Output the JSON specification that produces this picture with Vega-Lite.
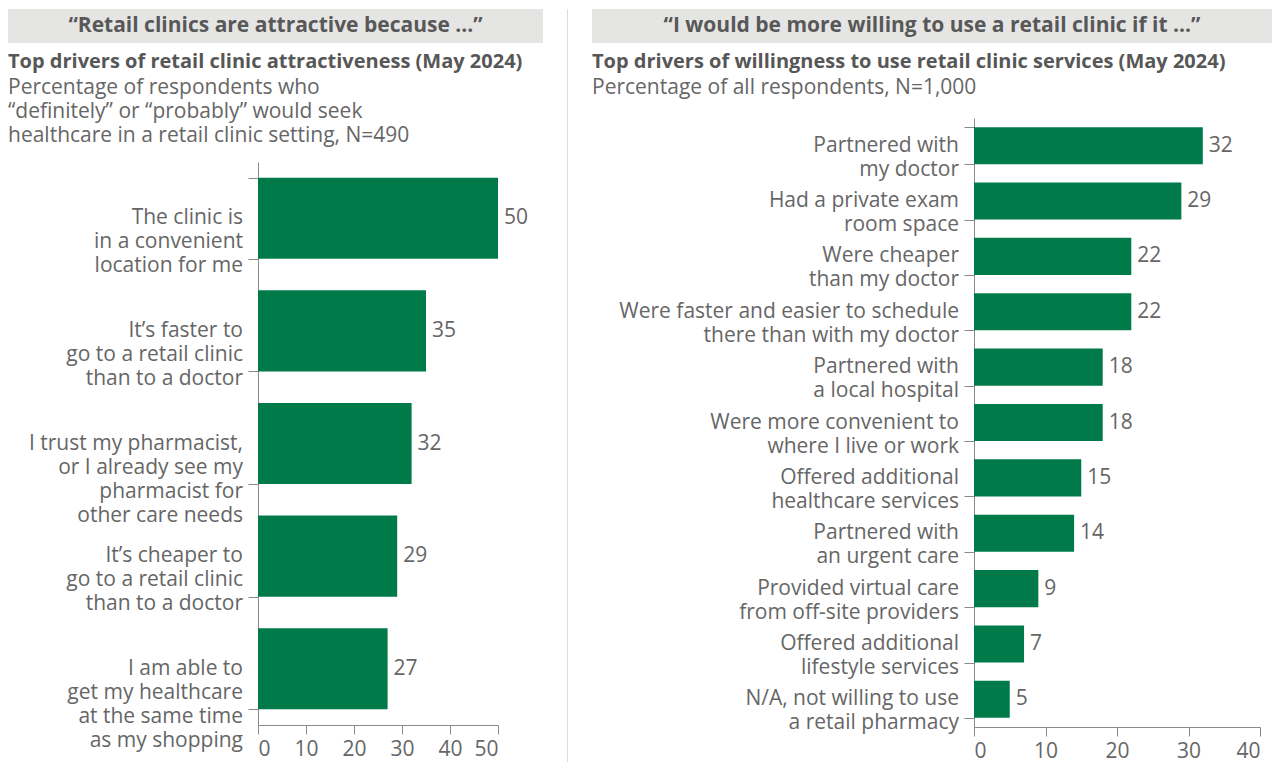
{
  "$schema": "https://vega.github.io/schema/vega-lite/v6.json",
  "padding": {"left": 8, "top": 8, "right": 10, "bottom": 0},
  "background": "white",
  "config": {
    "font": "Open Sans",
    "view": {"stroke": null},
    "concat": {"spacing": 4},
    "axis": {"labelColor": "#666666", "domainColor": "#8a8a8a", "tickColor": "#8a8a8a", "grid": false, "title": null, "labelFontSize": 21}
  },
  "spacing": 24,
  "hconcat": [
    {
      "spacing": 9,
      "vconcat": [
        {
          "width": 535,
          "height": 34,
          "view": {"fill": "#e5e6e4", "stroke": null},
          "data": {"values": [{"h": "“Retail clinics are attractive because ...”"}]},
          "mark": {"type": "text", "fontSize": 21, "fontWeight": "bold", "color": "#585858", "align": "center", "baseline": "middle"},
          "encoding": {"text": {"field": "h"}}
        },
        {
          "title": {
            "text": "Top drivers of retail clinic attractiveness (May 2024)",
            "subtitle": ["Percentage of respondents who", "“definitely” or “probably” would seek", "healthcare in a retail clinic setting, N=490"],
            "anchor": "start", "fontSize": 20, "fontWeight": "bold", "color": "#575757",
            "subtitleFontSize": 21, "subtitleColor": "#666666", "subtitleLineHeight": 24, "subtitlePadding": 5, "offset": 16
          },
          "data": {"values": [
            {"label": "The clinic is|in a convenient|location for me", "v": 50},
            {"label": "It’s faster to|go to a retail clinic|than to a doctor", "v": 35},
            {"label": "I trust my pharmacist,|or I already see my|pharmacist for|other care needs", "v": 32},
            {"label": "It’s cheaper to|go to a retail clinic|than to a doctor", "v": 29},
            {"label": "I am able to|get my healthcare|at the same time|as my shopping", "v": 27}
          ]},
          "spacing": 4,
          "hconcat": [
            {
              "width": 235,
              "height": 563,
              "mark": {"type": "text", "align": "right", "baseline": "middle", "lineBreak": "|", "lineHeight": 24, "fontSize": 21, "color": "#666666"},
              "encoding": {
                "y": {"field": "label", "type": "nominal", "sort": null, "scale": {"paddingInner": 0.28, "paddingOuter": 0.14}, "axis": null},
                "x": {"datum": 1, "type": "quantitative", "scale": {"domain": [0, 1]}, "axis": null},
                "text": {"field": "label"}
              }
            },
            {
              "width": 240,
              "height": 563,
              "encoding": {
                "y": {"field": "label", "type": "nominal", "sort": null, "scale": {"paddingInner": 0.28, "paddingOuter": 0.14},
                      "axis": {"labels": false, "tickSize": 10, "tickBand": "extent"}},
                "x": {"field": "v", "type": "quantitative", "scale": {"domain": [0, 50], "nice": false},
                      "axis": {"values": [0, 10, 20, 30, 40, 50], "tickSize": 9, "labelPadding": 4}}
              },
              "layer": [
                {"mark": {"type": "bar", "color": "#017a4a"}},
                {"mark": {"type": "text", "align": "left", "dx": 6, "fontSize": 21, "color": "#666666"}, "encoding": {"text": {"field": "v"}}}
              ]
            }
          ]
        }
      ]
    },
    {
      "width": 1,
      "height": 753,
      "data": {"values": [{"s": 1}]},
      "mark": {"type": "rule", "color": "#d6dfdf", "strokeWidth": 1},
      "encoding": {"x": {"datum": 0, "type": "quantitative", "scale": {"domain": [-1, 1]}, "axis": null}}
    },
    {
      "spacing": 9,
      "vconcat": [
        {
          "width": 680,
          "height": 34,
          "view": {"fill": "#e5e6e4", "stroke": null},
          "data": {"values": [{"h": "“I would be more willing to use a retail clinic if it ...”"}]},
          "mark": {"type": "text", "fontSize": 21, "fontWeight": "bold", "color": "#585858", "align": "center", "baseline": "middle"},
          "encoding": {"text": {"field": "h"}}
        },
        {
          "title": {
            "text": "Top drivers of willingness to use retail clinic services (May 2024)",
            "subtitle": ["Percentage of all respondents, N=1,000"],
            "anchor": "start", "fontSize": 20, "fontWeight": "bold", "color": "#575757",
            "subtitleFontSize": 21, "subtitleColor": "#666666", "subtitleLineHeight": 24, "subtitlePadding": 5, "offset": 20
          },
          "data": {"values": [
            {"label": "Partnered with|my doctor", "v": 32},
            {"label": "Had a private exam|room space", "v": 29},
            {"label": "Were cheaper|than my doctor", "v": 22},
            {"label": "Were faster and easier to schedule|there than with my doctor", "v": 22},
            {"label": "Partnered with|a local hospital", "v": 18},
            {"label": "Were more convenient to|where I live or work", "v": 18},
            {"label": "Offered additional|healthcare services", "v": 15},
            {"label": "Partnered with|an urgent care", "v": 14},
            {"label": "Provided virtual care|from off-site providers", "v": 9},
            {"label": "Offered additional|lifestyle services", "v": 7},
            {"label": "N/A, not willing to use|a retail pharmacy", "v": 5}
          ]},
          "spacing": 4,
          "hconcat": [
            {
              "width": 367,
              "height": 609,
              "mark": {"type": "text", "align": "right", "baseline": "middle", "lineBreak": "|", "lineHeight": 24, "fontSize": 21, "color": "#666666"},
              "encoding": {
                "y": {"field": "label", "type": "nominal", "sort": null, "scale": {"paddingInner": 0.33, "paddingOuter": 0.165}, "axis": null},
                "x": {"datum": 1, "type": "quantitative", "scale": {"domain": [0, 1]}, "axis": null},
                "text": {"field": "label"}
              }
            },
            {
              "width": 286,
              "height": 609,
              "encoding": {
                "y": {"field": "label", "type": "nominal", "sort": null, "scale": {"paddingInner": 0.33, "paddingOuter": 0.165},
                      "axis": {"labels": false, "tickSize": 10, "tickBand": "extent"}},
                "x": {"field": "v", "type": "quantitative", "scale": {"domain": [0, 40], "nice": false},
                      "axis": {"values": [0, 10, 20, 30, 40], "tickSize": 9, "labelPadding": 4}}
              },
              "layer": [
                {"mark": {"type": "bar", "color": "#017a4a"}},
                {"mark": {"type": "text", "align": "left", "dx": 6, "fontSize": 21, "color": "#666666"}, "encoding": {"text": {"field": "v"}}}
              ]
            }
          ]
        }
      ]
    }
  ]
}
